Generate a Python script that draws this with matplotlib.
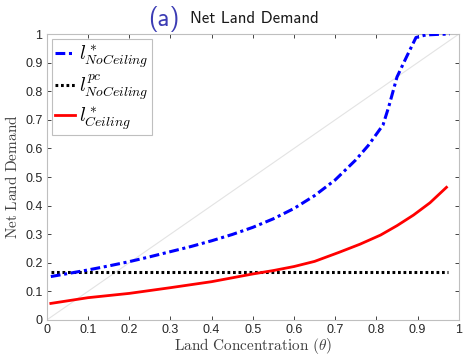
import matplotlib
matplotlib.use("Agg")
import matplotlib.pyplot as plt

plt.rcParams["mathtext.fontset"] = "cm"
plt.rcParams["font.family"] = ["Liberation Sans", "DejaVu Sans"]

# Land concentration grid and net land demand series
theta_noceil = [0.01, 0.05, 0.10, 0.15, 0.20, 0.25, 0.30, 0.35, 0.40, 0.45, 0.50,
                0.55, 0.60, 0.65, 0.70, 0.75, 0.78, 0.816, 0.83, 0.85, 0.873,
                0.896, 0.92, 0.95, 0.978]
l_noceil = [0.152, 0.162, 0.175, 0.189, 0.204, 0.221, 0.239, 0.257, 0.277, 0.299, 0.324,
            0.354, 0.39, 0.435, 0.49, 0.56, 0.61, 0.682, 0.746, 0.85, 0.92,
            0.988, 0.997, 0.999, 1.0]

theta_ceil = [0.01, 0.10, 0.20, 0.30, 0.40, 0.50, 0.55, 0.60, 0.65, 0.71, 0.76, 0.81,
              0.85, 0.89, 0.93, 0.97]
l_ceil = [0.058, 0.078, 0.093, 0.113, 0.134, 0.161, 0.173, 0.187, 0.205, 0.237, 0.265, 0.297,
          0.33, 0.367, 0.41, 0.464]

theta_pc = [0.01, 0.974]
l_pc = [0.169, 0.169]

diag = [0.0, 1.0]

xticks = [0, 0.1, 0.2, 0.3, 0.4, 0.5, 0.6, 0.7, 0.8, 0.9, 1]
xticklabels = ["0", "0.1", "0.2", "0.3", "0.4", "0.5", "0.6", "0.7", "0.8", "0.9", "1"]
yticks = [0, 0.1, 0.2, 0.3, 0.4, 0.5, 0.6, 0.7, 0.8, 0.9, 1]
yticklabels = ["0", "0.1", "0.2", "0.3", "0.4", "0.5", "0.6", "0.7", "0.8", "0.9", "1"]

fig = plt.figure(figsize=(4.63, 3.55), dpi=100)
ax = fig.add_axes([0.1009, 0.0986, 0.8901, 0.8054])

ax.plot(diag, diag, color="#e3e3e3", lw=0.8, zorder=1)
ax.plot(theta_noceil, l_noceil, color="#0000ff", lw=2.2, ls=(0, (3.2, 1.2, 1.0, 1.2)),
        label=r"$l^*_{NoCeiling}$", zorder=3)
ax.plot(theta_pc, l_pc, color="black", lw=2.2, ls=(0, (0.9, 0.9)),
        label=r"$l^{pc}_{NoCeiling}$", zorder=2)
ax.plot(theta_ceil, l_ceil, color="#ff0000", lw=2.0, ls="-",
        label=r"$l^*_{Ceiling}$", zorder=3)

ax.set_xlim(0, 1)
ax.set_ylim(0, 1)
ax.set_xticks(xticks)
ax.set_xticklabels(xticklabels)
ax.set_yticks(yticks)
ax.set_yticklabels(yticklabels)
ax.tick_params(direction="in", length=3, width=0.6, top=True, right=True,
               labelsize=9, colors="#262626", pad=3)
for s in ax.spines.values():
    s.set_color("#bfbfbf")
    s.set_linewidth(0.8)

ax.set_xlabel(r"$\mathrm{Land\ Concentration\ (}\theta\mathrm{)}$", fontsize=11,
              color="#404040", labelpad=0)
ax.set_ylabel(r"$\mathrm{Net\ Land\ Demand}$", fontsize=11, color="#404040", labelpad=4)

leg = ax.legend(loc="upper left", fontsize=14, handlelength=1.0, handletextpad=0.2,
                borderpad=0.2, labelspacing=0.15, borderaxespad=0.25,
                fancybox=False, framealpha=1)
leg.get_frame().set_edgecolor("#bfbfbf")
leg.get_frame().set_linewidth(0.8)

fig.text(0.354, 0.947, "(a)", fontsize=18, color="#3c3cb4", family="cmss10",
         ha="center", va="center")
fig.text(0.41, 0.947, "Net Land Demand", fontsize=12, color="#1a1a1a",
         family="cmss10", ha="left", va="center")

fig.savefig("out.png", dpi=100)
